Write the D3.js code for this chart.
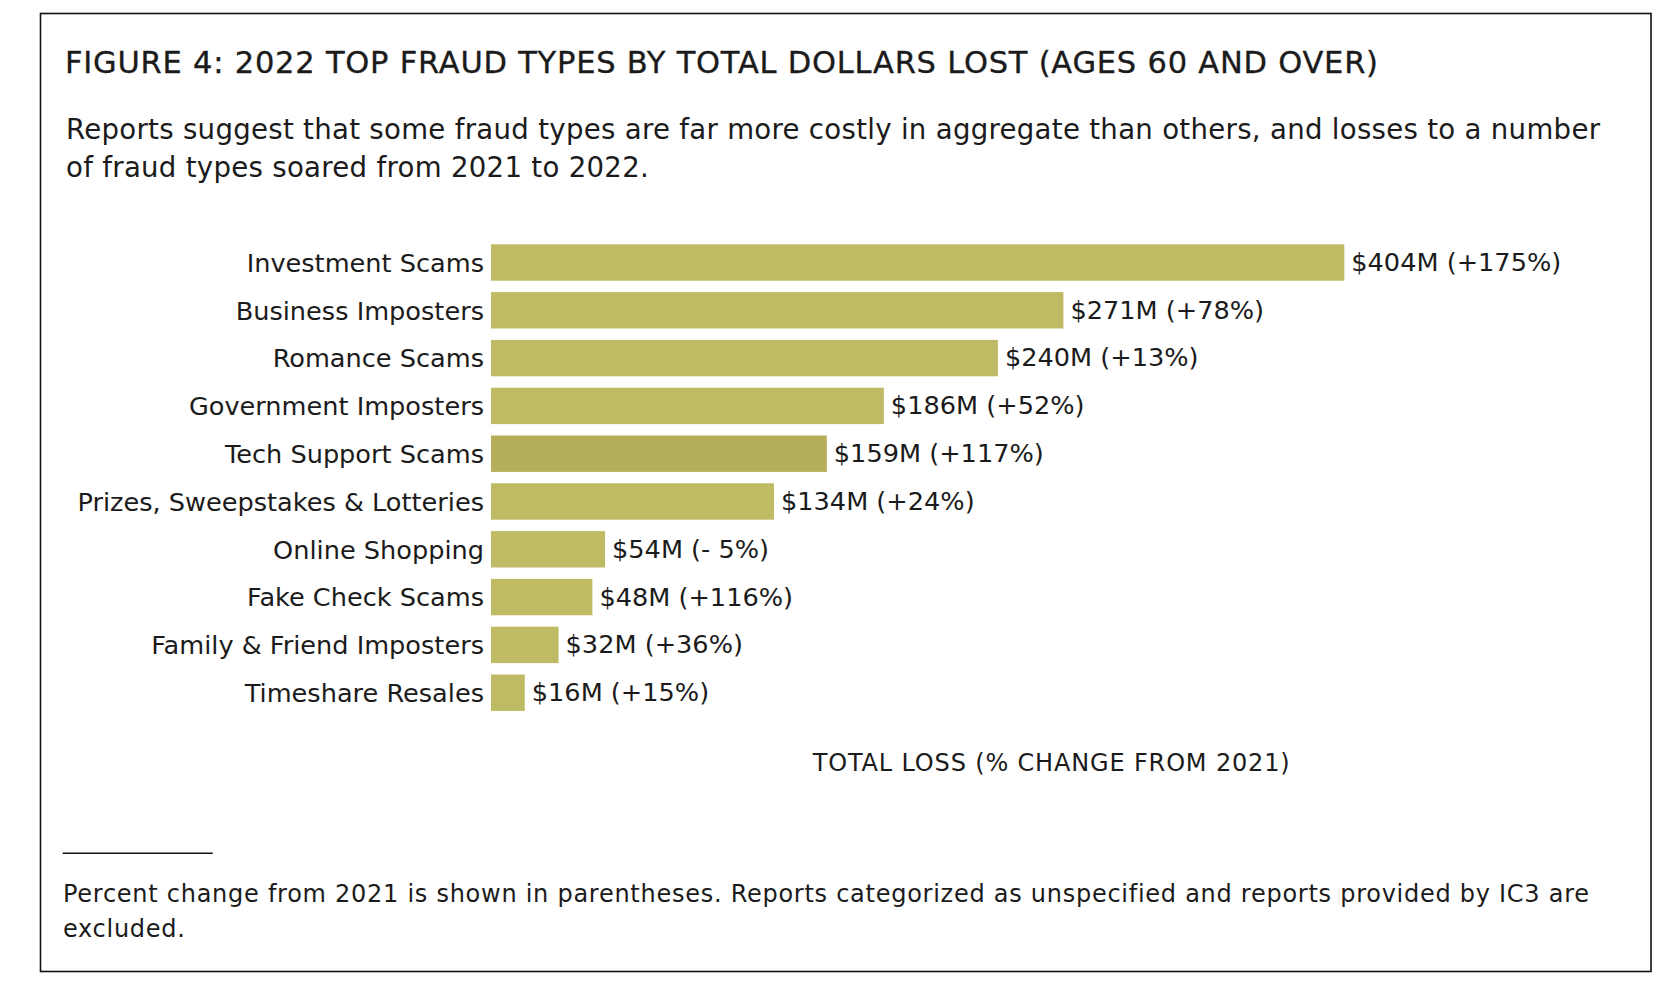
<!DOCTYPE html>
<html>
<head>
<meta charset="utf-8">
<script src="https://cdn.jsdelivr.net/npm/d3@7"></script>
<style>
  html, body { margin: 0; padding: 0; background: #ffffff; }
  svg { display: block; }
  text { font-family: "DejaVu Sans", sans-serif; fill: #1b1b1b; }
</style>
</head>
<body>
<svg id="chart" width="1671" height="986"></svg>
<script>
// ---- data ----
const categories = [
  "Investment Scams",
  "Business Imposters",
  "Romance Scams",
  "Government Imposters",
  "Tech Support Scams",
  "Prizes, Sweepstakes & Lotteries",
  "Online Shopping",
  "Fake Check Scams",
  "Family & Friend Imposters",
  "Timeshare Resales"
];
const lossMillions = [404, 271, 240, 186, 159, 134, 54, 48, 32, 16];
const pctChangeLabels = ["+175%", "+78%", "+13%", "+52%", "+117%", "+24%", "- 5%", "+116%", "+36%", "+15%"];

const titleText = "FIGURE 4: 2022 TOP FRAUD TYPES BY TOTAL DOLLARS LOST (AGES 60 AND OVER)";
const subtitleLines = [
  "Reports suggest that some fraud types are far more costly in aggregate than others, and losses to a number",
  "of fraud types soared from 2021 to 2022."
];
const axisTitle = "TOTAL LOSS (% CHANGE FROM 2021)";
const footnoteLines = [
  "Percent change from 2021 is shown in parentheses. Reports categorized as unspecified and reports provided by IC3 are",
  "excluded."
];

// ---- helpers ----
// spread letters so a text line spans the width it has in the reference
function fitWidth(node, target) {
  const len = node.getComputedTextLength();
  const n = node.textContent.length;
  const ls = n > 1 ? (target - len) / (n - 1) : 0;
  d3.select(node).attr("letter-spacing", ls);
  return ls;
}

// ---- drawing ----
const svg = d3.select("#chart");
const rows = categories.map((c, i) => ({ cat: c, value: lossMillions[i], pct: pctChangeLabels[i] }));

// frame
svg.append("rect")
  .attr("x", 40.5).attr("y", 13.5)
  .attr("width", 1610.5).attr("height", 958)
  .attr("fill", "none").attr("stroke", "#111").attr("stroke-width", 1.6);

// title
const title = svg.append("text")
  .attr("x", 65).attr("y", 73.3)
  .attr("font-size", 30.5)
  .attr("stroke", "#1b1b1b").attr("stroke-width", 0.35)
  .text(titleText);
fitWidth(title.node(), 1313);

// subtitle
const sub = svg.append("g").selectAll("text").data(subtitleLines).join("text")
  .attr("x", 66).attr("y", (d, i) => 139 + i * 37.7)
  .attr("font-size", 27.6)
  .text(d => d);
const subLs = fitWidth(sub.nodes()[0], 1534);
d3.select(sub.nodes()[1]).attr("letter-spacing", subLs);

// scales
const x = d3.scaleLinear().domain([0, d3.max(lossMillions)]).range([491, 1344.3]);
const y = d3.scaleBand().domain(categories).range([244.3, 710.9]).paddingInner(0.2385).paddingOuter(0);

const barColor = "#bfbb64";
const highlightColor = "#b5af5c";

const g = svg.append("g");
g.selectAll("rect.bar").data(rows).join("rect")
  .attr("class", "bar")
  .attr("x", x(0))
  .attr("y", d => y(d.cat))
  .attr("width", d => x(d.value) - x(0))
  .attr("height", y.bandwidth())
  .attr("fill", d => d.cat === "Tech Support Scams" ? highlightColor : barColor);

// category labels
g.selectAll("text.cat").data(rows).join("text")
  .attr("class", "cat")
  .attr("x", x(0) - 7)
  .attr("y", d => y(d.cat) + y.bandwidth() / 2 + 9.3)
  .attr("text-anchor", "end")
  .attr("font-size", 25.6)
  .text(d => d.cat);

// value labels
g.selectAll("text.val").data(rows).join("text")
  .attr("class", "val")
  .attr("x", d => x(d.value) + 7)
  .attr("y", d => y(d.cat) + y.bandwidth() / 2 + 8.4)
  .attr("font-size", 25.6)
  .text(d => `$${d.value}M (${d.pct})`);

// axis title
const at = svg.append("text")
  .attr("x", 812.7).attr("y", 770.7)
  .attr("font-size", 24)
  .text(axisTitle);
fitWidth(at.node(), 477);

// footnote separator
svg.append("line")
  .attr("x1", 62.7).attr("x2", 212.7)
  .attr("y1", 853.3).attr("y2", 853.3)
  .attr("stroke", "#111").attr("stroke-width", 1.5);

// footnote
const fn = svg.append("g").selectAll("text").data(footnoteLines).join("text")
  .attr("x", 63).attr("y", (d, i) => 902.3 + i * 34.4)
  .attr("font-size", 24)
  .text(d => d);
const fnLs = fitWidth(fn.nodes()[0], 1526);
d3.select(fn.nodes()[1]).attr("letter-spacing", fnLs);
</script>
</body>
</html>
